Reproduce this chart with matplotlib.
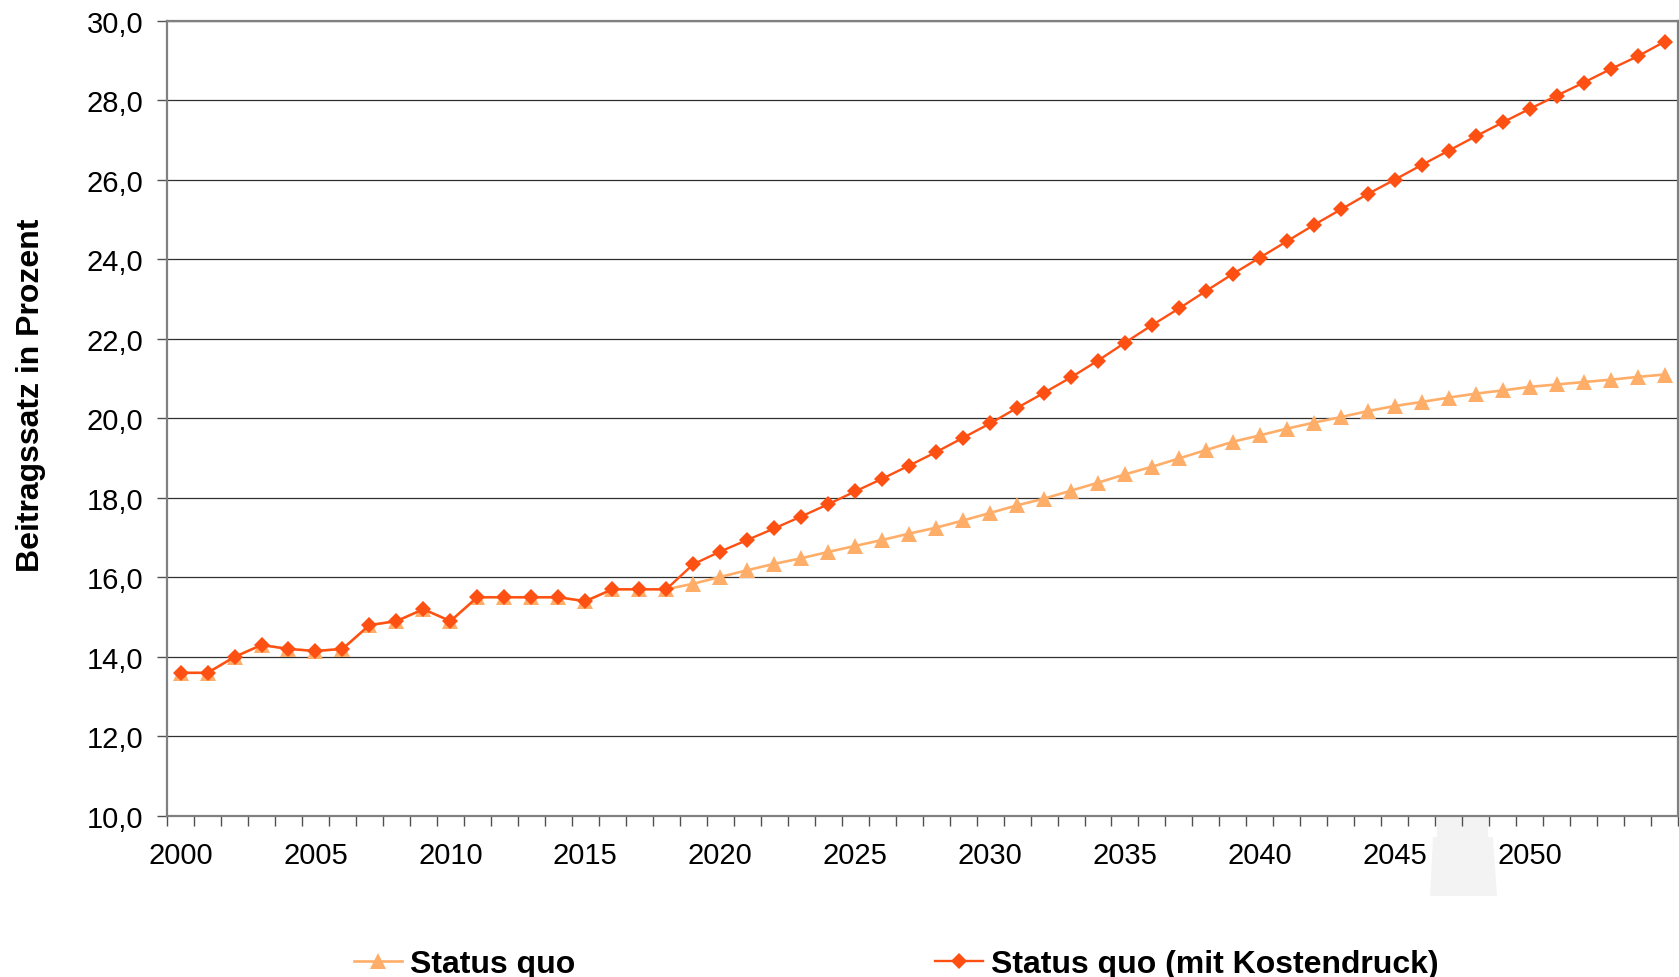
#!/usr/bin/python3

import matplotlib
matplotlib.use('Agg')
import matplotlib.pyplot as plt
from matplotlib.patches import Polygon
from matplotlib.ticker import MultipleLocator, FixedLocator, FuncFormatter

years = list(range(2000, 2056))

status_quo = [13.6, 13.6, 14.0, 14.3, 14.2, 14.15, 14.2, 14.8, 14.9, 15.2,
	14.9, 15.5, 15.5, 15.5, 15.5, 15.4, 15.7, 15.7, 15.7,
	15.84, 16.01, 16.18, 16.34, 16.48, 16.64, 16.79, 16.94, 17.1, 17.25,
	17.43, 17.62, 17.81, 17.98, 18.18, 18.38, 18.59, 18.78,
	18.99, 19.2, 19.41, 19.57, 19.74, 19.89, 20.03, 20.18, 20.31, 20.41,
	20.52, 20.62, 20.70, 20.79, 20.85, 20.91, 20.97, 21.04, 21.1]

kostendruck = [13.6, 13.6, 14.0, 14.3, 14.2, 14.15, 14.2, 14.8, 14.9, 15.2,
	14.9, 15.5, 15.5, 15.5, 15.5, 15.4, 15.7, 15.7, 15.7,
	16.33, 16.65, 16.94, 17.23, 17.53, 17.84, 18.16, 18.48, 18.81, 19.15,
	19.51, 19.87, 20.26, 20.64, 21.03, 21.45, 21.9, 22.34,
	22.76, 23.2, 23.63, 24.04, 24.45, 24.86, 25.25, 25.64, 26.0, 26.37,
	26.73, 27.09, 27.44, 27.78, 28.11, 28.44, 28.78, 29.1, 29.47]

label_years = list(range(2000, 2051, 5))
series_names = ['Status quo', 'Status quo (mit Kostendruck)']


def main():
	''' Beitragssatz projection, status quo vs. with cost pressure'''

	plt.rcParams['font.family'] = ['Liberation Sans', 'DejaVu Sans']

	fig = plt.figure(figsize=(16.79, 9.78), dpi=100)
	ax = fig.add_axes([0.0995, 0.1646, 0.9, 0.8134])

	ax.plot(years, status_quo, color='#ffae6a', lw=1.9, marker='^',
		markersize=11.5, markeredgewidth=0, label=series_names[0], zorder=3)
	ax.plot(years, kostendruck, color='#ff5014', lw=1.7, marker='D',
		markersize=7.8, markeredgewidth=0, label=series_names[1], zorder=4)

	ax.set_xlim(1999.5, 2055.5)
	ax.set_ylim(10, 30)

	# y axis: every 2 points, german decimal comma
	ax.yaxis.set_major_locator(MultipleLocator(2))
	ax.yaxis.set_major_formatter(FuncFormatter(lambda v, p: ('%.1f' % v).replace('.', ',')))
	ax.grid(axis='y', color='#303030', lw=0.9)
	ax.set_axisbelow(True)

	# category style x axis: labels on the years, tick marks between them
	ax.xaxis.set_major_locator(FixedLocator(label_years))
	ax.xaxis.set_minor_locator(FixedLocator([y - 0.5 for y in years] + [2055.5]))
	ax.tick_params(axis='x', which='major', length=0, pad=18, labelsize=21)
	ax.tick_params(axis='x', which='minor', length=7, width=1, color='#505050')
	ax.tick_params(axis='y', length=7, width=1, color='#505050', pad=10, labelsize=21)

	for side in ['left', 'bottom', 'right', 'top']:
		ax.spines[side].set_color('#808080')
		ax.spines[side].set_linewidth(1.6)

	ax.set_ylabel('Beitragssatz in Prozent', fontsize=23, fontweight='bold')
	ax.yaxis.set_label_coords(-0.0803, 0.53)

	# faint grey figure behind the axis labels
	fig.patches.append(Polygon([(0.8559, 0.1636), (0.8862, 0.1636), (0.8862, 0.1431),
		(0.8892, 0.1431), (0.8916, 0.0828), (0.8517, 0.0828), (0.8535, 0.1431), (0.8559, 0.1431)],
		closed=True, transform=fig.transFigure, facecolor='#f3f3f3', edgecolor='none', zorder=-1))

	fig.legend(loc='center left', bbox_to_anchor=(0.211, 0.0136), ncol=2, frameon=False,
		prop={'size': 23, 'weight': 'bold'}, handlelength=1.5, handletextpad=0.25,
		columnspacing=11.27, borderpad=0, borderaxespad=0)

	fig.savefig('out.png', dpi=100)

	return


if __name__ == '__main__':
	main()
